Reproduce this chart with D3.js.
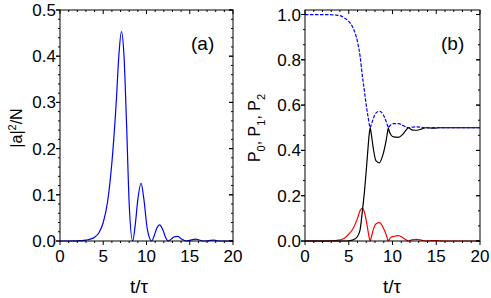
<!DOCTYPE html>
<html><head><meta charset="utf-8">
<script src="https://cdn.jsdelivr.net/npm/d3@7"></script>
<style>body{margin:0;background:#fff}svg{display:block}text{font-family:"Liberation Sans",Arial,sans-serif;fill:#000}</style>
</head><body><svg id="c" width="491" height="298"></svg>
<script>
// Panel (a): |a|^2/N vs t/tau
const tA = [0,1,2,3,3.5,4,4.5,5,5.5,6,6.5,6.8,7.1,7.4,7.7,8.0,8.4,8.7,9.0,9.37,9.7,10.1,10.6,10.9,11.2,11.5,11.9,12.2,12.5,12.9,13.2,13.6,14.0,14.6,15.0,15.7,16.2,16.7,17.2,17.8,18.3,19,20];
const aVals = [0,0,0.0003,0.002,0.004,0.008,0.018,0.04,0.085,0.17,0.30,0.40,0.453,0.40,0.25,0.08,0,0.035,0.09,0.125,0.09,0.025,0,0.012,0.028,0.035,0.024,0.008,0,0.005,0.009,0.01,0.005,0,0.0015,0.004,0.0015,0,0.001,0.002,0,0,0];
// Panel (b): populations
const tB = [0,1,2,3,3.5,4,4.5,5,5.5,6,6.3,6.55,6.8,7.0,7.2,7.35,7.45,7.55,7.8,8.1,8.5,8.9,9.3,9.45,9.52,9.6,9.8,10.1,10.7,11.2,11.6,11.8,12.0,12.3,12.8,13.3,13.8,14.3,14.8,15.3,16,17,18,19,20];
const p0 = [1,1,1,0.999,0.998,0.995,0.985,0.97,0.94,0.88,0.815,0.73,0.66,0.60,0.55,0.515,0.5,0.51,0.54,0.565,0.573,0.56,0.525,0.508,0.5,0.504,0.512,0.518,0.518,0.51,0.502,0.5,0.501,0.503,0.504,0.502,0.5,0.5,0.501,0.5,0.5,0.5,0.5,0.5,0.5];
const p1 = [0,0,0,0,0,0,0,0.001,0.005,0.02,0.05,0.13,0.22,0.31,0.41,0.475,0.5,0.48,0.41,0.355,0.345,0.38,0.45,0.485,0.5,0.488,0.47,0.46,0.458,0.472,0.492,0.5,0.496,0.49,0.489,0.494,0.5,0.499,0.498,0.5,0.5,0.5,0.5,0.5,0.5];
const p2 = [0,0,0,0.001,0.002,0.005,0.012,0.03,0.055,0.1,0.135,0.145,0.125,0.09,0.045,0.012,0,0.012,0.05,0.075,0.081,0.062,0.025,0.006,0,0.005,0.016,0.02,0.024,0.014,0.004,0,0.002,0.006,0.007,0.004,0,0.001,0.002,0.001,0,0,0,0,0];
const xTicks = [0,5,10,15,20];
const aTicks = [0,0.1,0.2,0.3,0.4,0.5];
const bTicks = [0,0.2,0.4,0.6,0.8,1.0];

const svg = d3.select("#c");

function panel(x0, x1, y0, y1, yDom, yTicks, yMinorStep, series, tag, tagX) {
  const x = d3.scaleLinear().domain([0,20]).range([x0,x1]);
  const y = d3.scaleLinear().domain(yDom).range([y1,y0]);
  const g = svg.append("g");
  series.forEach(s => {
    const line = d3.line().x((d,i)=>x(s.t[i])).y(d=>y(d)).curve(d3.curveMonotoneX);
    g.append("path").attr("d", line(s.v)).attr("fill","none")
      .attr("stroke", s.color).attr("stroke-width", 1.2)
      .attr("stroke-dasharray", s.dash || null);
  });
  g.append("rect").attr("x",x0).attr("y",y0).attr("width",x1-x0).attr("height",y1-y0)
    .attr("fill","none").attr("stroke","#000").attr("stroke-width",1);
  const xMinor = d3.range(0,20.001,1);
  const yMinor = d3.range(yDom[0], yDom[1]+1e-9, yMinorStep);
  const tk = g.append("g").attr("stroke","#000").attr("stroke-width",1);
  xMinor.forEach(v => {
    const major = xTicks.includes(v);
    const L = major ? 4 : 2;
    tk.append("line").attr("x1",x(v)).attr("x2",x(v)).attr("y1",y1).attr("y2",y1+L);
    tk.append("line").attr("x1",x(v)).attr("x2",x(v)).attr("y1",y0).attr("y2",y0+L);
  });
  yMinor.forEach(v => {
    const major = yTicks.some(t=>Math.abs(t-v)<1e-6);
    const L = major ? 4 : 2;
    tk.append("line").attr("y1",y(v)).attr("y2",y(v)).attr("x1",x0).attr("x2",x0-L);
    tk.append("line").attr("y1",y(v)).attr("y2",y(v)).attr("x1",x1).attr("x2",x1-L);
  });
  yTicks.forEach(v => {
    tk.append("line").attr("y1",y(v)).attr("y2",y(v)).attr("x1",x0).attr("x2",x0-4);
    tk.append("line").attr("y1",y(v)).attr("y2",y(v)).attr("x1",x1).attr("x2",x1-4);
  });
  xTicks.forEach(v => {
    g.append("text").attr("x",x(v)).attr("y",y1+21).attr("text-anchor","middle")
      .attr("font-size",17).text(v);
  });
  yTicks.forEach(v => {
    g.append("text").attr("x",x0-4).attr("y",y(v)+6).attr("text-anchor","end")
      .attr("font-size",17).text(d3.format(".1f")(v));
  });
  g.append("text").attr("x",tagX).attr("y",50).attr("font-size",19).text(tag);
  return {x,y};
}

panel(60, 233, 10, 241, [0,0.5], aTicks, 0.02,
  [{t:tA, v:aVals, color:"#0000ff"}], "(a)", 191);
panel(305, 480, 10, 241, [0,1.02], bTicks, 0.2/3,
  [{t:tB, v:p2, color:"#ff0000"},{t:tB, v:p1, color:"#000000"},{t:tB, v:p0, color:"#0000ff", dash:"3.5,1.5"}], "(b)", 441);

svg.append("text").attr("x",139).attr("y",293).attr("text-anchor","middle").attr("font-size",19).text("t/τ");
svg.append("text").attr("x",392).attr("y",293).attr("text-anchor","middle").attr("font-size",19).text("t/τ");
const ya = svg.append("text").attr("transform","translate(22,128) rotate(-90)").attr("text-anchor","middle").attr("font-size",16);
ya.append("tspan").text("|a|");
ya.append("tspan").attr("font-size",11).attr("dy",-6).text("2");
ya.append("tspan").attr("dy",6).text("/N");
const yb = svg.append("text").attr("transform","translate(260,128) rotate(-90)").attr("text-anchor","middle").attr("font-size",16);
[["P","0",", "],["P","1",", "],["P","2",""]].forEach(([a,b,c])=>{
  yb.append("tspan").text(a);
  yb.append("tspan").attr("font-size",11).attr("dy",5).text(b);
  yb.append("tspan").attr("dy",-5).text(c);
});
</script></body></html>
